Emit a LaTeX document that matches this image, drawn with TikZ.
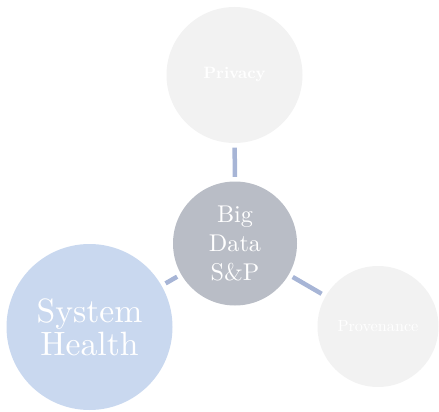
\documentclass[tikz,border=0pt]{standalone}
\usepackage{fontspec}
\setmainfont{lmroman10-regular.otf}[BoldFont=lmroman10-bold.otf, Ligatures=TeX]
\definecolor{lightc}{HTML}{F2F2F2}
\definecolor{centerc}{HTML}{B9BDC6}
\definecolor{healthc}{HTML}{C9D8EF}
\definecolor{linkc}{HTML}{A7B5D6}
\begin{document}
\begin{tikzpicture}[x=1pt,y=1pt,
  bubble/.style={circle, inner sep=0pt, draw=none, text=white, align=center},
  link/.style={draw=linkc, line width=4.5pt, shorten <=4.5pt, shorten >=4.5pt}]
\useasboundingbox (0,0) rectangle (439,-412);
\node[bubble, fill=lightc, minimum size=136pt, font={\fontsize{16.4}{19}\selectfont\bfseries}] (priv) at (234.5,-75)
  {Privacy};
\node[bubble, fill=centerc, minimum size=124pt, font={\fontsize{24.2}{28.8}\selectfont}] (big) at (235,-243.5)
  {Big\\Data\\S\&P};
\node[bubble, fill=lightc, minimum size=121pt, font={\fontsize{16.2}{19}\selectfont}] (prov) at (378,-326.5)
  {Provenance};
\node[bubble, fill=healthc, minimum size=166pt, font={\fontsize{33.7}{33.3}\selectfont}] (health) at (89.5,-327)
  {System\\Health};
\draw[link] (big) -- (priv);
\draw[link] (big) -- (prov);
\draw[link] (big) -- (health);
\end{tikzpicture}
\end{document}
